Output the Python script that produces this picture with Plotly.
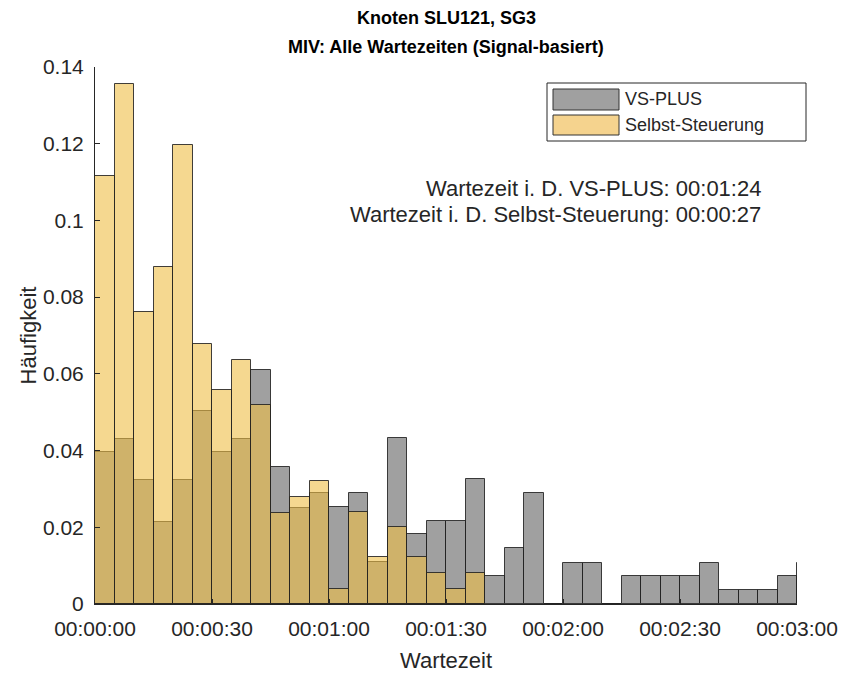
import plotly.graph_objects as go

# bin width 5 s, bins start at 0 s
bin_width = 5
vs_plus = [0.0395, 0.0431, 0.0324, 0.0215, 0.0324, 0.0502, 0.0395, 0.0431, 0.0610, 0.0358,
           0.0251, 0.0289, 0.0252, 0.0289, 0.0109, 0.0433, 0.0182, 0.0216, 0.0216, 0.0325,
           0.0072, 0.0146, 0.0289, 0.0, 0.0107, 0.0107, 0.0, 0.0072, 0.0072, 0.0072,
           0.0072, 0.0107, 0.0036, 0.0036, 0.0036, 0.0072, 0.0107]
selbst = [0.1116, 0.1356, 0.0760, 0.0879, 0.1196, 0.0678, 0.0559, 0.0637, 0.0518, 0.0237,
          0.0279, 0.0320, 0.0040, 0.0241, 0.0122, 0.0200, 0.0122, 0.0081, 0.0040, 0.0081]

x_tickvals = [0, 30, 60, 90, 120, 150, 180]
x_ticktext = ["00:00:00", "00:00:30", "00:01:00", "00:01:30", "00:02:00", "00:02:30", "00:03:00"]
y_tickvals = [0, 0.02, 0.04, 0.06, 0.08, 0.1, 0.12, 0.14]
y_ticktext = ["0", "0.02", "0.04", "0.06", "0.08", "0.1", "0.12", "0.14"]

series_names = ["VS-PLUS", "Selbst-Steuerung"]
title_lines = ["Knoten SLU121, SG3", "MIV: Alle Wartezeiten (Signal-basiert)"]
info_lines = ["Wartezeit i. D. VS-PLUS: 00:01:24", "Wartezeit i. D. Selbst-Steuerung: 00:00:27"]

GRAY = "rgba(97,97,97,0.6)"
YELLOW = "rgba(238,190,70,0.6)"
EDGE = "rgba(30,30,30,0.85)"
FONT = "Liberation Sans, Arial, sans-serif"
TXT = "#262626"

# plot area at x 95..797, y 67..604 (body margin removed via post_script)
W, H = 842, 673
L, R, T, B = 95, 45, 67, 69

def centers(vals):
    return [bin_width * i + bin_width / 2 for i in range(len(vals))]

fig = go.Figure()
fig.add_trace(go.Bar(x=centers(vs_plus), y=vs_plus, width=bin_width, name=series_names[0],
                     marker=dict(color=GRAY, line=dict(color=EDGE, width=1))))
fig.add_trace(go.Bar(x=centers(selbst), y=selbst, width=bin_width, name=series_names[1],
                     marker=dict(color=YELLOW, line=dict(color=EDGE, width=1))))

fig.update_layout(
    width=W, height=H,
    margin=dict(l=L, r=R, t=T, b=B, autoexpand=False),
    barmode="overlay", bargap=0,
    showlegend=False,
    plot_bgcolor="white", paper_bgcolor="white",
    font=dict(family=FONT, color=TXT, size=16),
)
fig.update_xaxes(range=[0, 180], tickvals=x_tickvals, ticktext=x_ticktext, automargin=False,
                 showline=True, linecolor=TXT, linewidth=1, mirror=False,
                 ticks="inside", ticklen=5, tickcolor=TXT, showgrid=False, zeroline=False,
                 ticklabelstandoff=6, ticklabeloverflow="allow",
                 tickfont=dict(size=21, family=FONT, color=TXT),
                 title=dict(text="Wartezeit", font=dict(size=22, family=FONT, color=TXT), standoff=19))
fig.update_yaxes(range=[0, 0.14], tickvals=y_tickvals, ticktext=y_ticktext, automargin=False,
                 showline=True, linecolor=TXT, linewidth=1, mirror=False,
                 ticks="inside", ticklen=5, tickcolor=TXT, showgrid=False, zeroline=False,
                 ticklabelstandoff=6,
                 tickfont=dict(size=21, family=FONT, color=TXT),
                 title=dict(text="Häufigkeit", font=dict(size=22, family=FONT, color=TXT), standoff=0))

# Title (two bold lines)
fig.add_annotation(text="<b>" + title_lines[0] + "</b>", xref="paper", yref="paper",
                   x=0.5, y=1, yshift=49, xanchor="center", yanchor="middle", showarrow=False,
                   font=dict(size=18, family=FONT, color="black"))
fig.add_annotation(text="<b>" + title_lines[1] + "</b>", xref="paper", yref="paper",
                   x=0.5, y=1, yshift=20, xanchor="center", yanchor="middle", showarrow=False,
                   font=dict(size=18, family=FONT, color="black"))

def px_x(px):
    return (px - 95) / 702

def px_y(py):
    return (604 - py) / 537

# Info text
fig.add_annotation(text=info_lines[0], xref="paper", yref="paper", x=px_x(763), y=px_y(188),
                   xanchor="right", yanchor="middle", showarrow=False,
                   font=dict(size=22, family=FONT, color=TXT))
fig.add_annotation(text=info_lines[1], xref="paper", yref="paper", x=px_x(763), y=px_y(214),
                   xanchor="right", yanchor="middle", showarrow=False,
                   font=dict(size=22, family=FONT, color=TXT))

# Manual legend (MATLAB style wide swatches)
fig.add_shape(type="rect", xref="paper", yref="paper", x0=px_x(547), x1=px_x(806), y0=px_y(141), y1=px_y(83),
              line=dict(color=TXT, width=1), fillcolor="white")
fig.add_shape(type="rect", xref="paper", yref="paper", x0=px_x(553), x1=px_x(619), y0=px_y(110), y1=px_y(89),
              line=dict(color="#333333", width=1), fillcolor="#A0A0A0")
fig.add_shape(type="rect", xref="paper", yref="paper", x0=px_x(553), x1=px_x(619), y0=px_y(135), y1=px_y(115),
              line=dict(color="#333333", width=1), fillcolor="#F5D38E")
fig.add_annotation(text=series_names[0], xref="paper", yref="paper", x=px_x(623), y=px_y(99),
                   xanchor="left", yanchor="middle", showarrow=False,
                   font=dict(size=18, family=FONT, color=TXT))
fig.add_annotation(text=series_names[1], xref="paper", yref="paper", x=px_x(623), y=px_y(125),
                   xanchor="left", yanchor="middle", showarrow=False,
                   font=dict(size=18, family=FONT, color=TXT))

fig.write_html("out.html", config={"displayModeBar": False},
               post_script="document.body.style.margin='0';document.body.style.overflow='hidden';")
